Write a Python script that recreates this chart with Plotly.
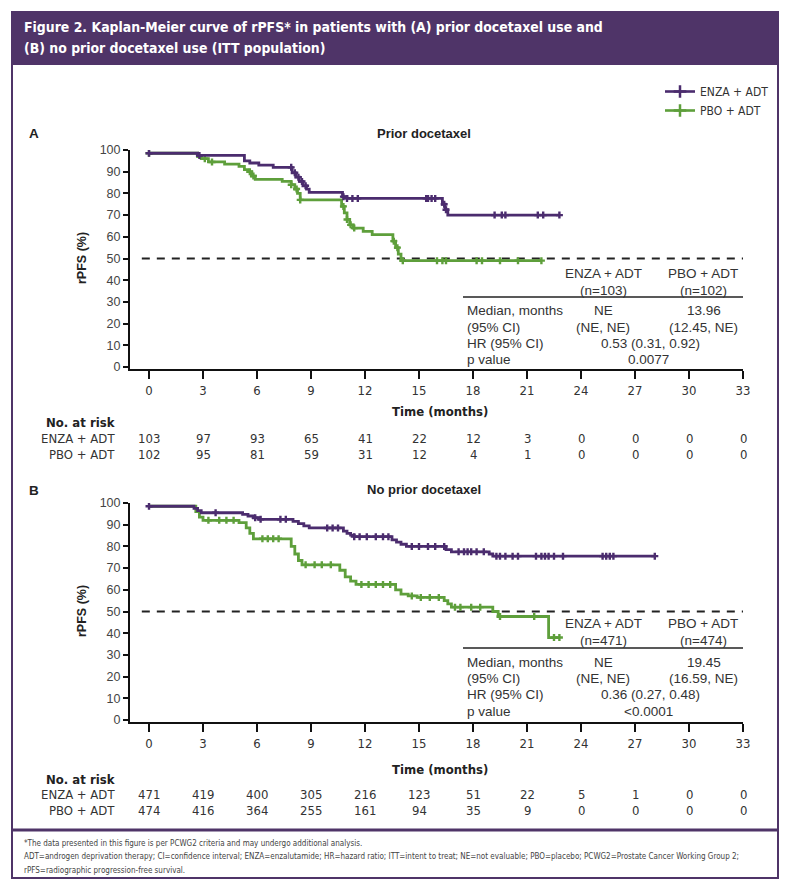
import plotly.graph_objects as go

W, H = 789, 891

# ---------------- data ----------------
months_ticks = [0, 3, 6, 9, 12, 15, 18, 21, 24, 27, 30, 33]
y_ticks = [0, 10, 20, 30, 40, 50, 60, 70, 80, 90, 100]

# Panel A (prior docetaxel)
a_enza_t = [0, 2.7, 5.3, 5.6, 6.1, 6.9, 7.95, 8.15, 8.35, 8.55, 8.75, 8.9, 10.75, 11.0, 16.3, 16.45, 16.6, 22.8]
a_enza_s = [98.5, 97.5, 95, 94, 93, 92, 89.5, 87.5, 85.5, 83.5, 82, 80.5, 78.5, 77.7, 75, 72.5, 70, 70]
a_enza_c = [0, 2.8, 7.9, 8.1, 8.3, 8.5, 8.7, 10.8, 11.0, 11.3, 11.6, 15.4, 15.5, 15.7, 15.9, 16.4, 16.5,
            19.2, 19.6, 19.8, 21.6, 21.9, 22.8]
a_pbo_t = [0, 2.7, 2.9, 3.3, 4.2, 5.0, 5.3, 5.5, 5.7, 5.9, 7.4, 7.9, 8.1, 8.25, 8.4, 10.7, 10.85, 11.0,
           11.15, 11.35, 11.9, 12.4, 13.55, 13.7, 13.85, 14.0, 21.8]
a_pbo_s = [98.5, 97, 96, 94.5, 93.5, 92.5, 91, 90, 88, 86.5, 85.5, 84, 82, 80, 77, 74, 71, 68,
           65.5, 64, 62.5, 61, 58, 55, 52, 49, 49]
a_pbo_c = [0, 3.1, 3.5, 5.6, 5.8, 7.9, 8.2, 8.4, 10.8, 11.0, 11.2, 11.4, 13.6, 13.8, 14.1, 16.0, 16.3,
           16.5, 18.2, 18.5, 19.5, 20.5, 21.8]

# Panel B (no prior docetaxel)
b_enza_t = [0, 2.5, 2.7, 2.9, 5.2, 5.5, 5.8, 6.1, 8.0, 8.3, 8.6, 8.9, 10.8, 11.0, 11.2, 11.4, 13.5,
            13.75, 14.0, 14.3, 16.5, 16.8, 18.9, 19.1, 28.1]
b_enza_s = [98.5, 97.5, 96.5, 95.5, 94.8, 94, 93.2, 92.5, 91.5, 90.5, 89.5, 88.5, 87, 86, 85.2, 84.5, 83,
            82, 81, 80, 78.5, 77.5, 76.5, 75.5, 75.5]
b_enza_c = [0, 3.7, 5.9, 6.2, 7.3, 7.6, 9.9, 10.2, 10.5, 11.4, 11.7, 12.1, 12.6, 13.0, 13.3, 14.6, 15.0,
            15.5, 15.9, 16.4, 17.2, 17.5, 17.7, 17.9, 18.2, 18.6, 19.3, 19.5, 19.8, 20.2, 20.5, 21.5,
            21.8, 22.0, 22.2, 22.5, 23.0, 25.2, 25.4, 25.6, 25.8, 28.1]
b_pbo_t = [0, 2.6, 2.8, 3.0, 5.0, 5.4, 5.6, 5.8, 7.9, 8.1, 8.3, 8.5, 10.6, 10.9, 11.2, 11.5, 13.7, 14.0,
           14.4, 14.9, 16.4, 16.6, 16.8, 19.1, 19.4, 22.2, 22.8]
b_pbo_s = [98.5, 96, 93.5, 92, 91, 88.5, 86, 83.5, 80, 76.5, 73.5, 71.5, 69, 66, 64, 62.5, 60, 58,
           57.2, 56.5, 55, 53.5, 52, 50, 47.7, 38, 38]
b_pbo_c = [3.3, 3.9, 4.3, 4.7, 6.3, 6.6, 6.9, 7.2, 8.7, 9.2, 9.6, 10.1, 11.8, 12.2, 12.6, 13.0, 13.4,
           14.6, 15.1, 15.6, 16.1, 17.0, 17.3, 17.9, 18.4, 19.5, 21.4, 22.5, 22.8]

# numbers at risk
a_risk_enza = [103, 97, 93, 65, 41, 22, 12, 3, 0, 0, 0, 0]
a_risk_pbo = [102, 95, 81, 59, 31, 12, 4, 1, 0, 0, 0, 0]
b_risk_enza = [471, 419, 400, 305, 216, 123, 51, 22, 5, 1, 0, 0]
b_risk_pbo = [474, 416, 364, 255, 161, 94, 35, 9, 0, 0, 0, 0]

arm_labels = ["ENZA + ADT", "PBO + ADT"]
a_n = ["(n=103)", "(n=102)"]
b_n = ["(n=471)", "(n=474)"]
a_median = ["NE", "13.96"]
a_ci = ["(NE, NE)", "(12.45, NE)"]
a_hr = "0.53 (0.31, 0.92)"
a_p = "0.0077"
b_median = ["NE", "19.45"]
b_ci = ["(NE, NE)", "(16.59, NE)"]
b_hr = "0.36 (0.27, 0.48)"
b_p = "<0.0001"
stat_rows = ["Median, months", "(95% CI)", "HR (95% CI)", "p value"]

title_lines = ["Figure 2. Kaplan-Meier curve of rPFS* in patients with (A) prior docetaxel use and",
               "(B) no prior docetaxel use (ITT population)"]
foot_lines = ["*The data presented in this figure is per PCWG2 criteria and may undergo additional analysis.",
              "ADT=androgen deprivation therapy; CI=confidence interval; ENZA=enzalutamide; HR=hazard ratio; ITT=intent to treat; NE=not evaluable; PBO=placebo; PCWG2=Prostate Cancer Working Group 2;",
              "rPFS=radiographic progression-free survival."]

# ---------------- style ----------------
PURPLE = "#4b2c6e"
HEAD = "#4f3468"
GREEN = "#5e9f3b"
TXT = "#333333"
COND = "Liberation Sans Narrow, DejaVu Sans Condensed, Arial Narrow, sans-serif"
SANS = "Liberation Sans, Arial, Helvetica, sans-serif"


def X(px):
    return px / W


def Y(py):
    return 1 - py / H


def step_val(ts, ss, t):
    v = ss[0]
    for ti, si in zip(ts, ss):
        if ti <= t:
            v = si
    return v


fig = go.Figure()

panels = [
    ("x", "y", a_enza_t, a_enza_s, a_enza_c, a_pbo_t, a_pbo_s, a_pbo_c),
    ("x2", "y2", b_enza_t, b_enza_s, b_enza_c, b_pbo_t, b_pbo_s, b_pbo_c),
]
for xa, ya, et, es, ec, pt, ps, pc in panels:
    for t, s, c, col in [(pt, ps, pc, GREEN), (et, es, ec, PURPLE)]:
        fig.add_trace(go.Scatter(x=t, y=s, mode="lines", line=dict(color=col, width=2.8, shape="hv"),
                                 xaxis=xa, yaxis=ya, showlegend=False, hoverinfo="skip"))
        fig.add_trace(go.Scatter(x=c, y=[step_val(t, s, ci) for ci in c], mode="markers",
                                 marker=dict(symbol="cross-thin", size=5, line=dict(color=col, width=2.4)),
                                 xaxis=xa, yaxis=ya, showlegend=False, hoverinfo="skip"))

# legend entries
for name, col in zip(arm_labels, [PURPLE, GREEN]):
    fig.add_trace(go.Scatter(x=[None], y=[None], mode="lines+markers", name=name,
                             line=dict(color=col, width=2.6),
                             marker=dict(symbol="cross-thin", size=9, line=dict(color=col, width=2.5))))

axis_common = dict(showgrid=False, zeroline=False, showline=True, linecolor="#111", linewidth=2,
                   ticks="outside", tickcolor="#111", tickwidth=2)
xcommon = dict(axis_common, range=[-1.056, 33], tickvals=months_ticks, ticklen=8,
               tickfont=dict(family=COND, size=13, color=TXT), domain=[X(130), X(743)])
ycommon = dict(axis_common, range=[-0.92, 100], tickvals=y_ticks, ticklen=5,
               tickfont=dict(family=SANS, size=12.5, color="#444"))

fig.update_layout(
    width=W, height=H, margin=dict(l=0, r=0, t=0, b=0, autoexpand=False),
    paper_bgcolor="white", plot_bgcolor="white",
    xaxis=dict(xcommon, anchor="y"),
    yaxis=dict(ycommon, anchor="x", domain=[Y(369), Y(150)]),
    xaxis2=dict(xcommon, anchor="y2"),
    yaxis2=dict(ycommon, anchor="x2", domain=[Y(722), Y(503)]),
    legend=dict(x=X(774), y=Y(77), xanchor="right", yanchor="top", bgcolor="rgba(0,0,0,0)",
                font=dict(family=COND, size=12, color=TXT), itemwidth=30, tracegroupgap=0,
                borderwidth=0),
)

shapes = []
# frame
shapes.append(dict(type="rect", xref="paper", yref="paper", x0=X(12), x1=X(778), y0=Y(12), y1=Y(65),
                   fillcolor=HEAD, line=dict(width=0), layer="below"))
shapes.append(dict(type="rect", xref="paper", yref="paper", x0=X(12), x1=X(778), y0=Y(12), y1=Y(878),
                   fillcolor="rgba(0,0,0,0)", line=dict(color=HEAD, width=2)))
shapes.append(dict(type="line", xref="paper", yref="paper", x0=X(12), x1=X(778), y0=Y(830), y1=Y(830),
                   line=dict(color=HEAD, width=3)))
# 50% dashed lines
for xa, ya in [("x", "y"), ("x2", "y2")]:
    shapes.append(dict(type="line", xref=xa, yref=ya, x0=-0.4, x1=33.1, y0=50, y1=50,
                       line=dict(color="#222", width=2.2, dash="8px,7px"), layer="below"))
# stats table rules
for ya, py in [("y", 297), ("y2", 648)]:
    shapes.append(dict(type="line", xref="paper", yref="paper", x0=X(463), x1=X(743), y0=Y(py), y1=Y(py),
                       line=dict(color="#222", width=1.5)))
fig.update_layout(shapes=shapes)

ann = []


def txt(x, y, s, size=12, family=SANS, color=TXT, xanchor="center", bold=False, xref="paper", angle=0):
    ann.append(dict(x=x if xref != "paper" else X(x), y=Y(y), xref=xref, yref="paper",
                    text=f"<b>{s}</b>" if bold else s, showarrow=False, xanchor=xanchor, yanchor="middle",
                    font=dict(family=family, size=size, color=color), textangle=angle))


# header
for i, line in enumerate(title_lines):
    txt(22, 27 + i * 21, line, size=13.9, family=COND, color="white", xanchor="left", bold=True)

# panel labels/titles
for lab, ttl, py in [("A", "Prior docetaxel", 134), ("B", "No prior docetaxel", 490)]:
    txt(27, py, lab, size=13.5, bold=True, xanchor="left", color="#222")
    txt(424, py - 1, ttl, size=13, bold=True, color="#222")

# axis titles
for ymid in [258, 611]:
    txt(82, ymid, "rPFS (%)", size=12.5, bold=True, angle=-90, color="#222")
for py in [411, 769]:
    txt(440, py, "Time (months)", size=13, family=COND, bold=True, color="#222")

# risk tables
for base, renza, rpbo in [(423, a_risk_enza, a_risk_pbo), (779, b_risk_enza, b_risk_pbo)]:
    txt(117, base, "No. at risk", size=13, family=COND, bold=True, xanchor="right", color="#222")
    for j, (lab, row) in enumerate(zip(arm_labels, [renza, rpbo])):
        yy = base + 15 + j * 16
        txt(117, yy, lab, size=13, family=COND, xanchor="right")
        xr = "x" if base < 600 else "x2"
        for t, v in zip(months_ticks, row):
            txt(t, yy, str(v), size=13, family=COND, xref=xr)

# stats tables
for top, ns, med, ci, hr, p in [(273, a_n, a_median, a_ci, a_hr, a_p), (623, b_n, b_median, b_ci, b_hr, b_p)]:
    for cx, lab, n in zip([603, 703], arm_labels, ns):
        txt(cx, top, lab, size=13.5)
        txt(cx, top + 17, n, size=13.5)
    rows_y = [top + 37, top + 54, top + 70, top + 87] if top < 600 else [top + 39, top + 55, top + 71, top + 88]
    for lab, yy in zip(stat_rows, rows_y):
        txt(465, yy, lab, size=13.5, xanchor="left")
    txt(603, rows_y[0], med[0], size=13.5)
    txt(704, rows_y[0], med[1], size=13.5)
    txt(603, rows_y[1], ci[0], size=13.5)
    txt(703, rows_y[1], ci[1], size=13.5)
    txt(650, rows_y[2], hr, size=13.5)
    txt(648, rows_y[3], p.replace("<", "&lt;"), size=13.5)

# footnote
for i, line in enumerate(foot_lines):
    txt(22, 843 + i * 13.5, line, size=8, family=COND, xanchor="left", color="#444")

fig.update_layout(annotations=ann)
fig.write_html("out.html")
